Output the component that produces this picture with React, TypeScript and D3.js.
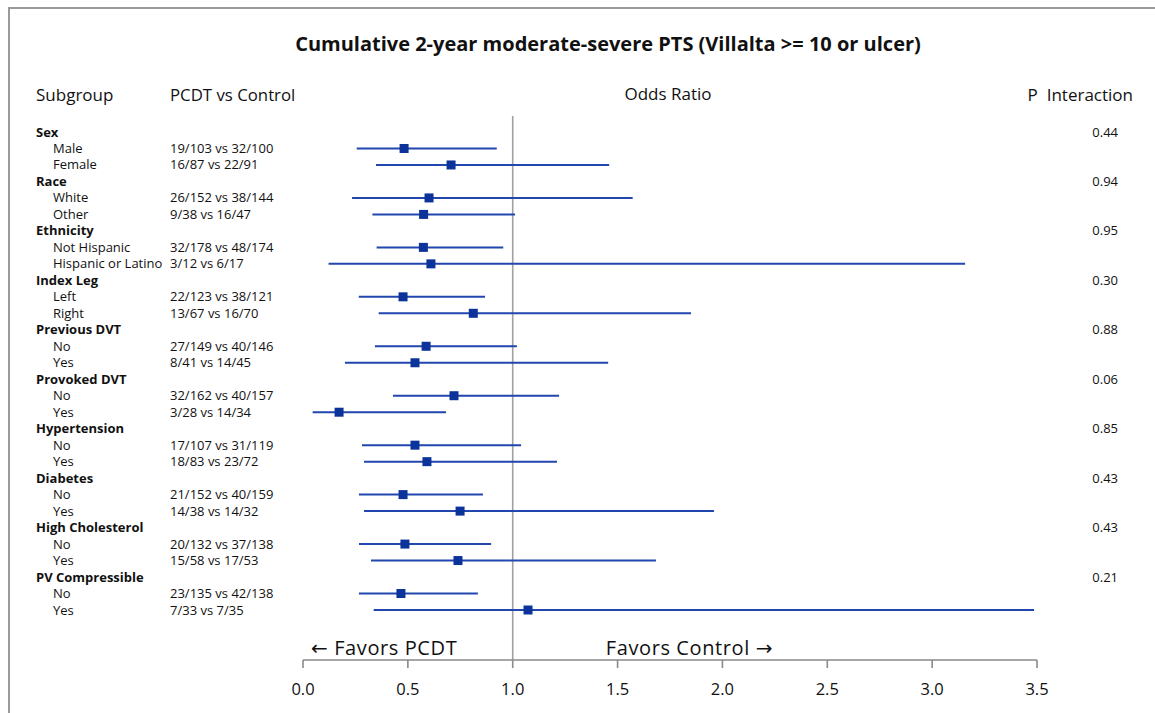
import React from "react";
import * as d3 from "d3";

// Subgroup rows: group headers carry the interaction p value, members carry estimates
const groups = [
  "Sex",
  "Race",
  "Ethnicity",
  "Index Leg",
  "Previous DVT",
  "Provoked DVT",
  "Hypertension",
  "Diabetes",
  "High Cholesterol",
  "PV Compressible",
];
const pInteraction = ["0.44", "0.94", "0.95", "0.30", "0.88", "0.06", "0.85", "0.43", "0.43", "0.21"];
const levels = [
  ["Male", "Female"],
  ["White", "Other"],
  ["Not Hispanic", "Hispanic or Latino"],
  ["Left", "Right"],
  ["No", "Yes"],
  ["No", "Yes"],
  ["No", "Yes"],
  ["No", "Yes"],
  ["No", "Yes"],
  ["No", "Yes"],
];
const counts = [
  ["19/103 vs 32/100", "16/87 vs 22/91"],
  ["26/152 vs 38/144", "9/38 vs 16/47"],
  ["32/178 vs 48/174", "3/12 vs 6/17"],
  ["22/123 vs 38/121", "13/67 vs 16/70"],
  ["27/149 vs 40/146", "8/41 vs 14/45"],
  ["32/162 vs 40/157", "3/28 vs 14/34"],
  ["17/107 vs 31/119", "18/83 vs 23/72"],
  ["21/152 vs 40/159", "14/38 vs 14/32"],
  ["20/132 vs 37/138", "15/58 vs 17/53"],
  ["23/135 vs 42/138", "7/33 vs 7/35"],
];
// Odds ratio point estimates and 95% CI bounds, one pair per group
const oddsRatio = [
  [0.482, 0.706],
  [0.601, 0.575],
  [0.574, 0.61],
  [0.477, 0.812],
  [0.587, 0.534],
  [0.72, 0.172],
  [0.534, 0.591],
  [0.477, 0.749],
  [0.486, 0.739],
  [0.467, 1.073],
];
const ciLow = [
  [0.256, 0.348],
  [0.234, 0.331],
  [0.351, 0.122],
  [0.266, 0.361],
  [0.343, 0.2],
  [0.429, 0.046],
  [0.281, 0.291],
  [0.267, 0.291],
  [0.267, 0.324],
  [0.267, 0.337],
];
const ciHigh = [
  [0.924, 1.46],
  [1.572, 1.011],
  [0.955, 3.157],
  [0.868, 1.85],
  [1.02, 1.455],
  [1.221, 0.682],
  [1.04, 1.211],
  [0.858, 1.96],
  [0.897, 1.683],
  [0.834, 3.486],
];
const xTicks = [0, 0.5, 1, 1.5, 2, 2.5, 3, 3.5];

type Row = {
  kind: "group" | "level";
  label: string;
  count?: string;
  p?: string;
  or?: number;
  lo?: number;
  hi?: number;
};

const rows: Row[] = [];
groups.forEach((g, gi) => {
  rows.push({ kind: "group", label: g, p: pInteraction[gi] });
  levels[gi].forEach((lv, li) => {
    rows.push({
      kind: "level",
      label: lv,
      count: counts[gi][li],
      or: oddsRatio[gi][li],
      lo: ciLow[gi][li],
      hi: ciHigh[gi][li],
    });
  });
});

const W = 1155;
const H = 713;
const FONT = "'Open Sans', 'Noto Sans', sans-serif";
const ARROW_FONT = "'DejaVu Sans', sans-serif";
const LINE_BLUE = "#2146ad";
const MARK_BLUE = "#0b3399";

export default function App() {
  const x = d3.scaleLinear().domain([0, 3.5]).range([303, 1037]);
  const y = d3
    .scaleLinear()
    .domain([0, rows.length - 1])
    .range([132, 610]);
  const axisY = 660;
  const sq = 9;
  const rowFont = 13;

  return (
    <svg
      width={W}
      height={H}
      style={{ position: "absolute", left: 0, top: 0, background: "#fff" }}
      fontFamily={FONT}
    >
      <rect x={9} y={8} width={W + 20} height={H + 20} fill="#fff" stroke="#9a9a9a" strokeWidth={2} />

      <text x={608} y={51} textAnchor="middle" fontSize={20} fontWeight={700} fill="#111">
        Cumulative 2-year moderate-severe PTS (Villalta &gt;= 10 or ulcer)
      </text>

      <text x={36} y={101} fontSize={17} fill="#111">Subgroup</text>
      <text x={170} y={101} fontSize={16.8} fill="#111">PCDT vs Control</text>
      <text x={668} y={100} textAnchor="middle" fontSize={17} fill="#111">Odds Ratio</text>
      <text x={1133} y={101} textAnchor="end" fontSize={17} fill="#111" xmlSpace="preserve">P  Interaction</text>

      {/* reference line at OR = 1 */}
      <line x1={x(1)} x2={x(1)} y1={116} y2={axisY} stroke="#a0a0a0" strokeWidth={1.6} />

      {rows.map((r, i) => {
        const yy = y(i);
        if (r.kind === "group") {
          return (
            <g key={i}>
              <text x={36} y={yy + 4.5} fontSize={rowFont} fontWeight={700} fill="#111">{r.label}</text>
              <text x={1118} y={yy + 4.5} textAnchor="end" fontSize={rowFont} fill="#111">{r.p}</text>
            </g>
          );
        }
        return (
          <g key={i}>
            <text x={53} y={yy + 4.5} fontSize={rowFont} fill="#111">{r.label}</text>
            <text x={170} y={yy + 4.5} fontSize={rowFont} fill="#111">{r.count}</text>
            <line x1={x(r.lo!)} x2={x(r.hi!)} y1={yy} y2={yy} stroke={LINE_BLUE} strokeWidth={2} />
            <rect x={x(r.or!) - sq / 2} y={yy - sq / 2} width={sq} height={sq} fill={MARK_BLUE} />
          </g>
        );
      })}

      <text x={311} y={655} fontSize={20} letterSpacing={0.6} fill="#111">
        <tspan fontFamily={ARROW_FONT}>←</tspan> Favors PCDT
      </text>
      <text x={773} y={655} textAnchor="end" fontSize={20} letterSpacing={0.6} fill="#111">
        Favors Control <tspan fontFamily={ARROW_FONT}>→</tspan>
      </text>

      {/* x axis */}
      <line x1={x(0)} x2={x(3.5)} y1={axisY} y2={axisY} stroke="#8a8a8a" strokeWidth={1.6} />
      {xTicks.map((t) => (
        <g key={t}>
          <line x1={x(t)} x2={x(t)} y1={axisY} y2={axisY + 8} stroke="#8a8a8a" strokeWidth={1.6} />
          <text x={x(t)} y={axisY + 35} textAnchor="middle" fontSize={16.5} fill="#111">
            {t.toFixed(1)}
          </text>
        </g>
      ))}
    </svg>
  );
}
